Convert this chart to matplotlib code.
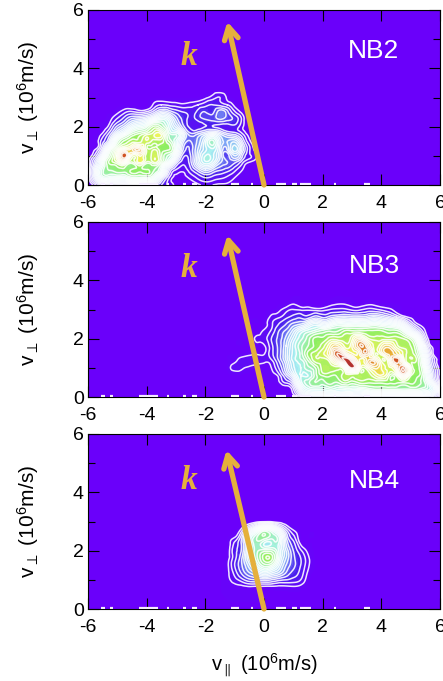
import numpy as np
import matplotlib
matplotlib.use('Agg')
import matplotlib.pyplot as plt
import matplotlib.tri as mtri
from matplotlib.colors import LinearSegmentedColormap

plt.rcParams['font.family'] = ['Liberation Sans', 'DejaVu Sans']
plt.rcParams['mathtext.fontset'] = 'dejavusans'
plt.rcParams['mathtext.default'] = 'regular'
plt.rcParams['axes.unicode_minus'] = False

# density, 0-9 scale, rows go up from the first y value
y_nb2 = [0, .25, .5, .75, 1, 1.25, 1.5, 1.75, 2, 2.25, 2.5, 2.75, 3, 3.25]
x_nb2 = [-6, -5.75, -5.5, -5.25, -5, -4.75, -4.5, -4.25, -4, -3.75, -3.5, -3.25, -3,
         -2.75, -2.5, -2.25, -2, -1.75, -1.5, -1.25, -1, -.75, -.5, -.25, 0]
nb2 = [
    [0, .3, .6, .8, .8, .8, .8, .8, .8, .8, .6, .3, .1, .05, .05, .1, .2, .15, .1, .1, .05, 0, 0, 0, 0],
    [0, 1.5, 3, 3, 3, 3, 3.5, 3.5, 3.5, 3, 1.5, .4, .1, .1, .2, .4, .6, .5, .4, .3, .15, .05, 0, 0, 0],
    [0, 1.8, 3.5, 4, 4.2, 4.2, 4.5, 4.5, 4.5, 4, 3, 1, .3, .2, .5, 1, 1.5, 1.2, .9, .7, .4, .15, .02, 0, 0],
    [0, 1.2, 3, 4.5, 5, 5.5, 4.5, 5.5, 4.5, 5, 4, 2.5, 1, .4, .8, 2, 2.8, 2.4, 1.5, 1.2, .9, .4, .1, 0, 0],
    [0, .5, 2, 4, 6, 8, 5.5, 6, 5, 5.5, 4.5, 3.5, 2.2, .7, .9, 2, 3, 2.8, 1.8, 1, 1.8, 1, .4, .15, 0],
    [0, .1, 1, 3, 4.8, 6, 6.5, 7, 5, 5, 4.5, 4.5, 3, 1.2, 1, 1.8, 2.6, 3, 2, 1.6, 2.6, 1.5, .4, .05, 0],
    [0, 0, .5, 1.5, 3.5, 4.5, 5, 5, 5.5, 5, 5, 4, 3, 1.6, 1.2, 1.6, 2.6, 3.4, 2.2, 1.8, 2, 1, .2, 0, 0],
    [0, 0, .2, .8, 2, 3, 4, 4.5, 5, 5.5, 5.5, 3.5, 3.2, 2, 1, 1.2, 1.6, 2, 1.5, 1, .8, .4, .05, 0, 0],
    [0, 0, .05, .3, 1, 1.6, 2.5, 3, 3.5, 4.5, 4, 3, 2, 1, .5, .4, .6, .6, .5, .4, .5, .2, .05, 0, 0],
    [0, 0, 0, .1, .4, .8, 1.3, 1.5, 1.8, 2.5, 3, 2.5, 1.4, .8, .5, .7, .9, 1, 1.2, 1, .8, .3, 0, 0, 0],
    [0, 0, 0, 0, .1, .3, .4, .3, .4, .8, 1.4, 1.2, .8, .6, .5, .7, .9, .8, 1.4, 1, .4, .1, 0, 0, 0],
    [0, 0, 0, 0, 0, 0, 0, 0, 0, .2, .35, .3, .25, .2, .25, .35, .5, .6, .5, .35, .1, 0, 0, 0, 0],
    [0, 0, 0, 0, 0, 0, 0, 0, 0, 0, 0, 0, 0, 0, 0, 0, .1, .25, .35, .1, 0, 0, 0, 0, 0],
    [0, 0, 0, 0, 0, 0, 0, 0, 0, 0, 0, 0, 0, 0, 0, 0, 0, 0, 0, 0, 0, 0, 0, 0, 0],
]

y_nb3 = [0, .25, .5, .75, 1, 1.25, 1.5, 1.75, 2, 2.25, 2.5, 2.75, 3, 3.25, 3.5]
x_nb3 = [-1.25, -1, -.75, -.5, -.25, 0, .25, .5, .75, 1, 1.25, 1.5, 1.75, 2, 2.25,
         2.5, 2.75, 3, 3.25, 3.5, 3.75, 4, 4.25, 4.5, 4.75, 5, 5.25, 5.5, 5.75, 6]
nb3 = [
    [0, 0, 0, 0, 0, 0, 0, 0, 0, .02, .3, .8, 1, 1, 1, 1, 1, .8, .8, 1, 1, 1, 1, 1, 1, 1, 1, 1, .8, .05],
    [0, 0, 0, 0, 0, 0, 0, 0, .05, .3, 1.8, 2.8, 3, 3, 3.2, 3, 3, 3, 3, 3.2, 3.5, 3.5, 3.5, 3.5, 3.5, 3.5, 3.5, 3.2, 2.5, .1],
    [0, 0, 0, 0, 0, 0, .02, .1, .4, 1, 2.8, 3.5, 4, 3.8, 4.2, 4, 4.5, 4.2, 4.5, 4.5, 4.5, 4.5, 4.5, 4.5, 4.5, 4.5, 4.2, 3.5, 1.8, .08],
    [0, 0, 0, 0, 0, 0, .05, .25, 1, 2, 3, 3, 3.8, 4.5, 4.5, 4.5, 5, 5, 5, 5, 5.5, 6, 5, 5, 7, 5, 4.5, 3.2, 1.2, .05],
    [0, .25, .2, .1, .05, .05, .15, .6, 1.5, 2.6, 3, 3.5, 4, 5, 5, 5, 6, 8.5, 6, 5.5, 6.5, 6, 5.5, 6.5, 8, 5.5, 4.5, 2.8, .9, 0],
    [0, .1, .25, .3, .25, .2, .3, .9, 1.8, 2.8, 3.2, 4, 5, 5, 5.5, 7, 8.5, 8, 6, 6.5, 7, 5.5, 6, 8, 6, 5, 4.5, 2.4, .6, 0],
    [0, 0, 0, .05, .1, .12, .5, 1, 1.9, 2.8, 3.4, 4.5, 5, 5.5, 6.5, 8, 7, 6, 6.5, 7.5, 5.5, 6, 7, 6.5, 5.5, 5, 4, 2, .2, 0],
    [0, 0, 0, 0, .05, .12, .5, 1, 1.8, 2.8, 3.5, 4, 4.5, 5, 6, 6.5, 5.5, 6, 7.5, 7, 5.5, 6, 6.5, 5.5, 5, 4.8, 3.5, 1.2, .05, 0],
    [0, 0, 0, 0, .2, .25, .6, 1, 1.6, 2.5, 3.2, 3.8, 4.5, 4.5, 5, 5, 5, 5.5, 6.5, 5.5, 5, 5, 5, 5, 4.8, 4.2, 2.5, .5, 0, 0],
    [0, 0, 0, 0, 0, .2, .4, .9, 1.3, 2, 2.8, 3.2, 3.5, 3.8, 4, 4, 4.5, 4.5, 4.5, 4.5, 4.5, 4.5, 4.2, 4.2, 3.5, 2.2, 1, .15, 0, 0],
    [0, 0, 0, 0, 0, .05, .3, .6, .9, 1.3, 1.5, 2, 2.5, 2.2, 2.5, 3, 3, 3, 3, 3, 3.2, 3, 2.8, 2.5, 1.8, .7, .15, 0, 0, 0],
    [0, 0, 0, 0, 0, 0, .2, .3, .5, .7, .8, .7, 1, .8, 1, 1.2, 1.3, 1.2, 1.2, 1.3, 1.5, 1.3, 1, .6, .25, .08, 0, 0, 0, 0],
    [0, 0, 0, 0, 0, 0, 0, .08, .25, .35, .3, .3, .25, .25, .35, .4, .4, .3, .3, .4, .4, .3, .2, .08, 0, 0, 0, 0, 0, 0],
    [0, 0, 0, 0, 0, 0, 0, 0, 0, .1, .05, 0, 0, 0, .05, .1, .1, .05, 0, .05, .05, 0, 0, 0, 0, 0, 0, 0, 0, 0],
    [0, 0, 0, 0, 0, 0, 0, 0, 0, 0, 0, 0, 0, 0, 0, 0, 0, 0, 0, 0, 0, 0, 0, 0, 0, 0, 0, 0, 0, 0],
]

y_nb4 = [.25, .5, .75, 1, 1.25, 1.5, 1.75, 2, 2.25, 2.5, 2.75, 3, 3.25]
x_nb4 = [-1.5, -1.25, -1, -.75, -.5, -.25, 0, .25, .5, .75, 1, 1.25, 1.5, 1.75]
nb4 = [
    [0, 0, .05, .05, .05, .03, 0, 0, 0, 0, 0, 0, 0, 0],
    [0, .05, .1, .1, .1, .05, 0, 0, 0, 0, 0, 0, 0, 0],
    [0, .1, .1, .1, .12, .1, .1, .1, .1, .1, .12, .08, 0, 0],
    [0, .1, .25, .5, .8, .9, 1, .9, .7, .6, .5, .35, .05, 0],
    [0, .1, .45, 1, 1.5, 2, 2.5, 2.2, 1.8, 1.2, .8, .5, .12, 0],
    [0, .1, .6, 1.2, 2, 3, 3.8, 3.6, 2.5, 1.5, 1, .6, .2, 0],
    [0, .05, .5, 1.2, 2.5, 3.5, 4.6, 4.6, 3, 1.8, 1, .6, .2, 0],
    [0, 0, .5, 1, 2.5, 3.5, 3.8, 3.8, 3, 1.8, .9, .4, .1, 0],
    [0, 0, .4, 1, 2.5, 3.5, 3, 3, 3, 1.5, .7, .1, 0, 0],
    [0, 0, .1, .8, 2.5, 3.5, 4, 3.5, 3, 1.2, .4, 0, 0, 0],
    [0, 0, 0, .2, 1, 2, 2.8, 2.5, 1.5, .5, .1, 0, 0, 0],
    [0, 0, 0, 0, 0, .05, .1, .1, .05, 0, 0, 0, 0, 0],
    [0, 0, 0, 0, 0, 0, 0, 0, 0, 0, 0, 0, 0, 0],
]

panel_names = ['NB2', 'NB3', 'NB4']
# white gaps along the bottom row
gap_starts = [-5.54, -5.26, -4.25, -3.32, -2.75, -2.47, -1.14, -.46, .41, .96, 1.23, 2.39, 3.41]
gap_ends = [-5.43, -5.14, -3.6, -3.23, -2.66, -2.27, -.85, -.39, .75, 1.14, 1.6, 2.46, 3.6]
arrow_tip = [(-1.25, 5.6), (-1.25, 5.55), (-1.28, 5.45)]
name_y = [4.6, 4.5, 4.38]

cmap = LinearSegmentedColormap.from_list('dens', [
    (0, '#6a00fa'), (.08, '#4a1fee'), (.2, '#7fa8f5'), (.33, '#a8f0f0'),
    (.5, '#8cee62'), (.66, '#eef45a'), (.8, '#e8a030'), (.92, '#c83a20'), (1, '#b03030')])
fill_levels = np.linspace(.02, 9, 60)
line_levels = [.15, .35, .6, .9, 1.2, 1.5, 1.8, 2.1, 2.4, 2.7, 3, 3.3, 3.6, 4, 4.4, 4.8, 5.2,
               5.6, 6, 6.4, 6.8, 7.2, 7.6, 8, 8.4]

W, H = 443, 681
fig = plt.figure(figsize=(W / 100, H / 100), dpi=100)

grids = [(x_nb2, y_nb2, nb2), (x_nb3, y_nb3, nb3), (x_nb4, y_nb4, nb4)]
tops = [10, 222, 434]
for i, (xs, ys, zs) in enumerate(grids):
    ax = fig.add_axes([88 / W, 1 - (tops[i] + 175) / H, 352 / W, 175 / H])
    ax.set_facecolor('#6a00fa')

    gx, gy = np.meshgrid(xs, ys)
    tri = mtri.Triangulation(gx.ravel(), gy.ravel())
    refiner = mtri.UniformTriRefiner(tri)
    tri2, z2 = refiner.refine_field(np.array(zs, dtype=float).ravel(), subdiv=3)
    ax.tricontourf(tri2, z2, levels=fill_levels, cmap=cmap, vmin=0, vmax=9, extend='max')
    ax.tricontour(tri2, z2, levels=line_levels, colors='white', linewidths=1.1, alpha=.9)

    ax.hlines([.05] * len(gap_starts), gap_starts, gap_ends, color='#f4ecff', lw=1.6, zorder=3)

    ax.annotate('', xy=arrow_tip[i], xytext=(0, 0),
                arrowprops=dict(arrowstyle='->,head_length=.9,head_width=.5', color='#e5b03c',
                                lw=3.8, shrinkA=0, shrinkB=0), zorder=4)
    ax.text(-2.55, 4.4, 'k', color='#e5b03c', fontsize=24, family='Liberation Serif',
            style='italic', weight='bold', ha='center', va='center', zorder=4)
    ax.text(3.75, name_y[i], panel_names[i], color='white', fontsize=19, ha='center', va='center', zorder=4)

    ax.set_xlim(-6, 6)
    ax.set_ylim(0, 6)
    ax.set_xticks([-6, -4, -2, 0, 2, 4, 6])
    ax.set_yticks([0, 2, 4, 6])
    ax.set_yticks([1, 3, 5], minor=True)
    ax.tick_params(which='both', direction='in', top=True, right=True, length=8, width=.8, labelsize=14)
    ax.tick_params(axis='y', which='minor', length=5)
    ax.tick_params(axis='x', pad=7)
    ax.tick_params(axis='y', pad=3)
    ax.set_ylabel(r'v$_{\perp}$ (10$^{6}$m/s)', fontsize=15)
    ax.yaxis.set_label_coords(-47 / 352, .5)
    for s in ax.spines.values():
        s.set_linewidth(.8)
    if i == 2:
        ax.set_xlabel(r'v$_{\parallel}$ (10$^{6}$m/s)', fontsize=14.5)
        ax.xaxis.set_label_coords(.5, -56 / 175, transform=ax.transAxes)
        ax.xaxis.label.set_verticalalignment('center')

fig.savefig('out.png', dpi=100)
